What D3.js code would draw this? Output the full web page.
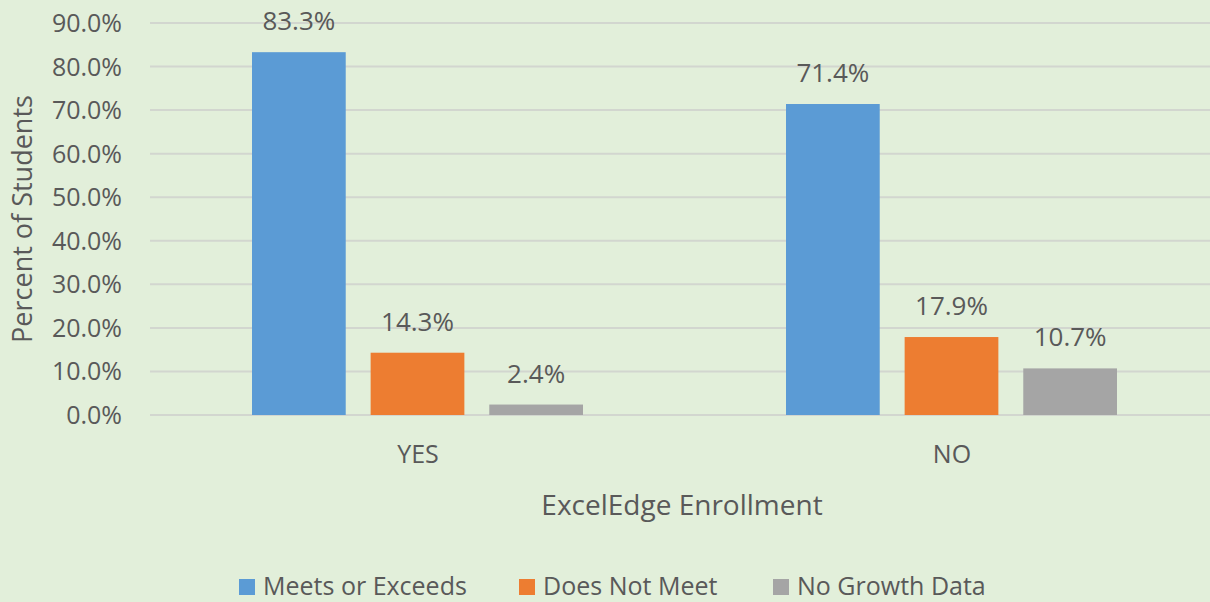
<!DOCTYPE html>
<html>
<head>
<meta charset="utf-8">
<script src="https://cdn.jsdelivr.net/npm/d3@7"></script>
<style>
  body { margin: 0; background: #e2efda; }
  text { font-family: "Open Sans", "Noto Sans", sans-serif; fill: #595959; }
</style>
</head>
<body>
<svg id="chart" width="1210" height="602"></svg>
<script>
const categories = ["YES", "NO"];
const seriesNames = ["Meets or Exceeds", "Does Not Meet", "No Growth Data"];
const meetsValues = [83.3, 71.4];
const notMeetValues = [14.3, 17.9];
const noDataValues = [2.4, 10.7];
const yTicks = [0, 10, 20, 30, 40, 50, 60, 70, 80, 90];
const colors = ["#5b9bd5", "#ed7d31", "#a5a5a5"];

const seriesValues = [meetsValues, notMeetValues, noDataValues];

const svg = d3.select("#chart");
svg.append("rect").attr("width", 1210).attr("height", 602).attr("fill", "#e2efda");

const y = d3.scaleLinear().domain([0, 90]).range([415, 23]);
const x0 = d3.scaleBand().domain(categories).range([151, 1219]);
const x1 = d3.scaleBand().domain(seriesNames).range([101, 432]).paddingInner(0.21);

// gridlines
svg.append("g").selectAll("line")
  .data(yTicks)
  .enter().append("line")
  .attr("x1", 150).attr("x2", 1210)
  .attr("y1", d => y(d)).attr("y2", d => y(d))
  .attr("stroke", "#d2d6cf").attr("stroke-width", 2);

// y tick labels
svg.append("g").selectAll("text")
  .data(yTicks)
  .enter().append("text")
  .attr("x", 122).attr("y", d => y(d) + 9)
  .attr("text-anchor", "end")
  .style("font-size", "25px")
  .text(d => d.toFixed(1) + "%");

// bars
const groups = svg.append("g").selectAll("g")
  .data(categories)
  .enter().append("g")
  .attr("transform", d => `translate(${x0(d)},0)`);

groups.selectAll("rect")
  .data((c, i) => seriesNames.map((s, j) => ({ s: s, v: seriesValues[j][i], j: j })))
  .enter().append("rect")
  .attr("x", d => x1(d.s))
  .attr("width", x1.bandwidth())
  .attr("y", d => y(d.v))
  .attr("height", d => y(0) - y(d.v))
  .attr("fill", d => colors[d.j]);

groups.selectAll("text.label")
  .data((c, i) => seriesNames.map((s, j) => ({ s: s, v: seriesValues[j][i], j: j })))
  .enter().append("text")
  .attr("class", "label")
  .attr("x", d => x1(d.s) + x1.bandwidth() / 2)
  .attr("y", d => y(d.v) - 22)
  .attr("text-anchor", "middle")
  .style("font-size", "26px")
  .text(d => d.v.toFixed(1) + "%");

// category labels
svg.append("g").selectAll("text")
  .data(categories)
  .enter().append("text")
  .attr("x", d => x0(d) + x0.bandwidth() / 2)
  .attr("y", 463)
  .attr("text-anchor", "middle")
  .style("font-size", "25px")
  .text(d => d);

// axis titles
svg.append("text")
  .attr("x", 682).attr("y", 515)
  .attr("text-anchor", "middle")
  .style("font-size", "28px")
  .text("ExcelEdge Enrollment");

svg.append("text")
  .attr("transform", "translate(32,219) rotate(-90)")
  .attr("text-anchor", "middle")
  .style("font-size", "27px")
  .text("Percent of Students");

// legend
const legendX = [239, 519, 773];
const legend = svg.append("g").selectAll("g")
  .data(seriesNames)
  .enter().append("g")
  .attr("transform", (d, i) => `translate(${legendX[i]},579)`);

legend.append("rect")
  .attr("width", 16).attr("height", 16)
  .attr("fill", (d, i) => colors[i]);

legend.append("text")
  .attr("x", 24).attr("y", 16)
  .style("font-size", "25px")
  .text(d => d);
</script>
</body>
</html>
